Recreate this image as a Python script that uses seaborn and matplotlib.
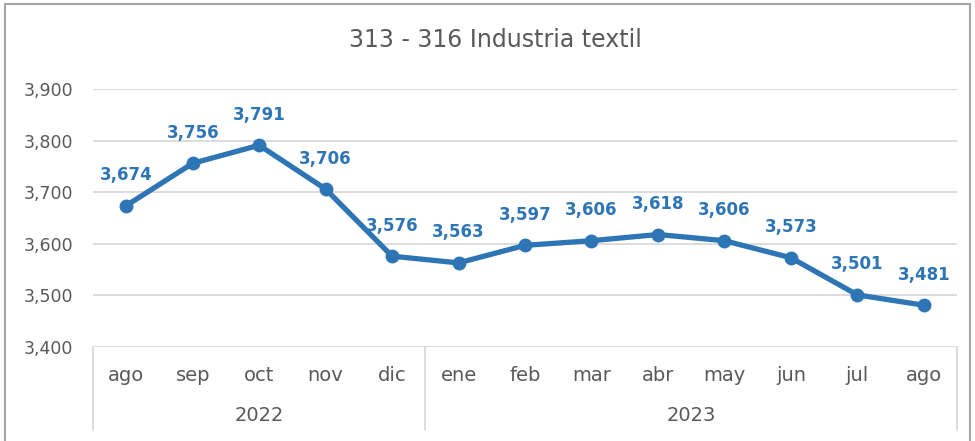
import matplotlib
matplotlib.use("Agg")
import matplotlib.pyplot as plt
import seaborn as sns
import pandas as pd
from matplotlib.patches import Rectangle
from matplotlib.lines import Line2D

months = ["ago", "sep", "oct", "nov", "dic", "ene", "feb", "mar", "abr", "may", "jun", "jul", "ago"]
years = ["2022", "2023"]
year_counts = [5, 8]
values = [3674, 3756, 3791, 3706, 3576, 3563, 3597, 3606, 3618, 3606, 3573, 3501, 3481]
title = "313 - 316 Industria textil"
yticks = [3400, 3500, 3600, 3700, 3800, 3900]

sns.set_style("white")
plt.rcParams['font.family'] = ['DejaVu Sans']

W, H = 975, 441
fig = plt.figure(figsize=(W / 100, H / 100), dpi=100)
L, R, T, B = 93, 957, 89, 347
ax = fig.add_axes([L / W, 1 - B / H, (R - L) / W, (B - T) / H])

df = pd.DataFrame({"x": range(len(values)), "v": values})
line_color = "#2E75B6"
text_gray = "#595959"
grid_gray = "#D9D9D9"

sns.lineplot(data=df, x="x", y="v", ax=ax, color=line_color, linewidth=3.8,
             marker="o", markersize=10, markeredgewidth=0, zorder=3)

ax.set_xlim(-0.5, len(values) - 0.5)
ax.set_ylim(3400, 3900)
ax.set_yticks(yticks)
ax.set_yticklabels([f"{v:,}" for v in yticks], color=text_gray, fontsize=12.5)
ax.tick_params(axis="y", length=0, pad=14)
ax.set_xticks([])
ax.set_xlabel("")
ax.set_ylabel("")
for s in ax.spines.values():
    s.set_visible(False)
for y in yticks:
    ax.axhline(y, color=grid_gray, linewidth=1.3, zorder=1)

for i, v in enumerate(values):
    ax.annotate(f"{v:,}", (i, v), xytext=(0, 22), textcoords="offset points",
                ha="center", va="center", fontsize=12, fontweight="bold", color=line_color)

# category axis
trans = ax.get_xaxis_transform()
for i, m in enumerate(months):
    ax.text(i, -0.112, m, transform=trans, ha="center", va="center", fontsize=14, color=text_gray)
start = 0
seps = [-0.5]
for y, c in zip(years, year_counts):
    ax.text(start + (c - 1) / 2, -0.264, y, transform=trans, ha="center", va="center",
            fontsize=14, color=text_gray)
    start += c
    seps.append(start - 0.5)
for sx in seps:
    ax.add_line(Line2D([sx, sx], [0, -0.322], transform=trans, color=grid_gray,
                       linewidth=1.3, clip_on=False))

fig.text(495 / W, 1 - 40 / H, title, ha="center", va="center", fontsize=17, color=text_gray)

fig.patches.append(Rectangle((5 / W, -0.05), 965 / W, 1 - 4 / H + 0.05, transform=fig.transFigure,
                             fill=False, edgecolor="#A6A6A6", linewidth=1.5))

fig.savefig("out.png", dpi=100, facecolor="white")
